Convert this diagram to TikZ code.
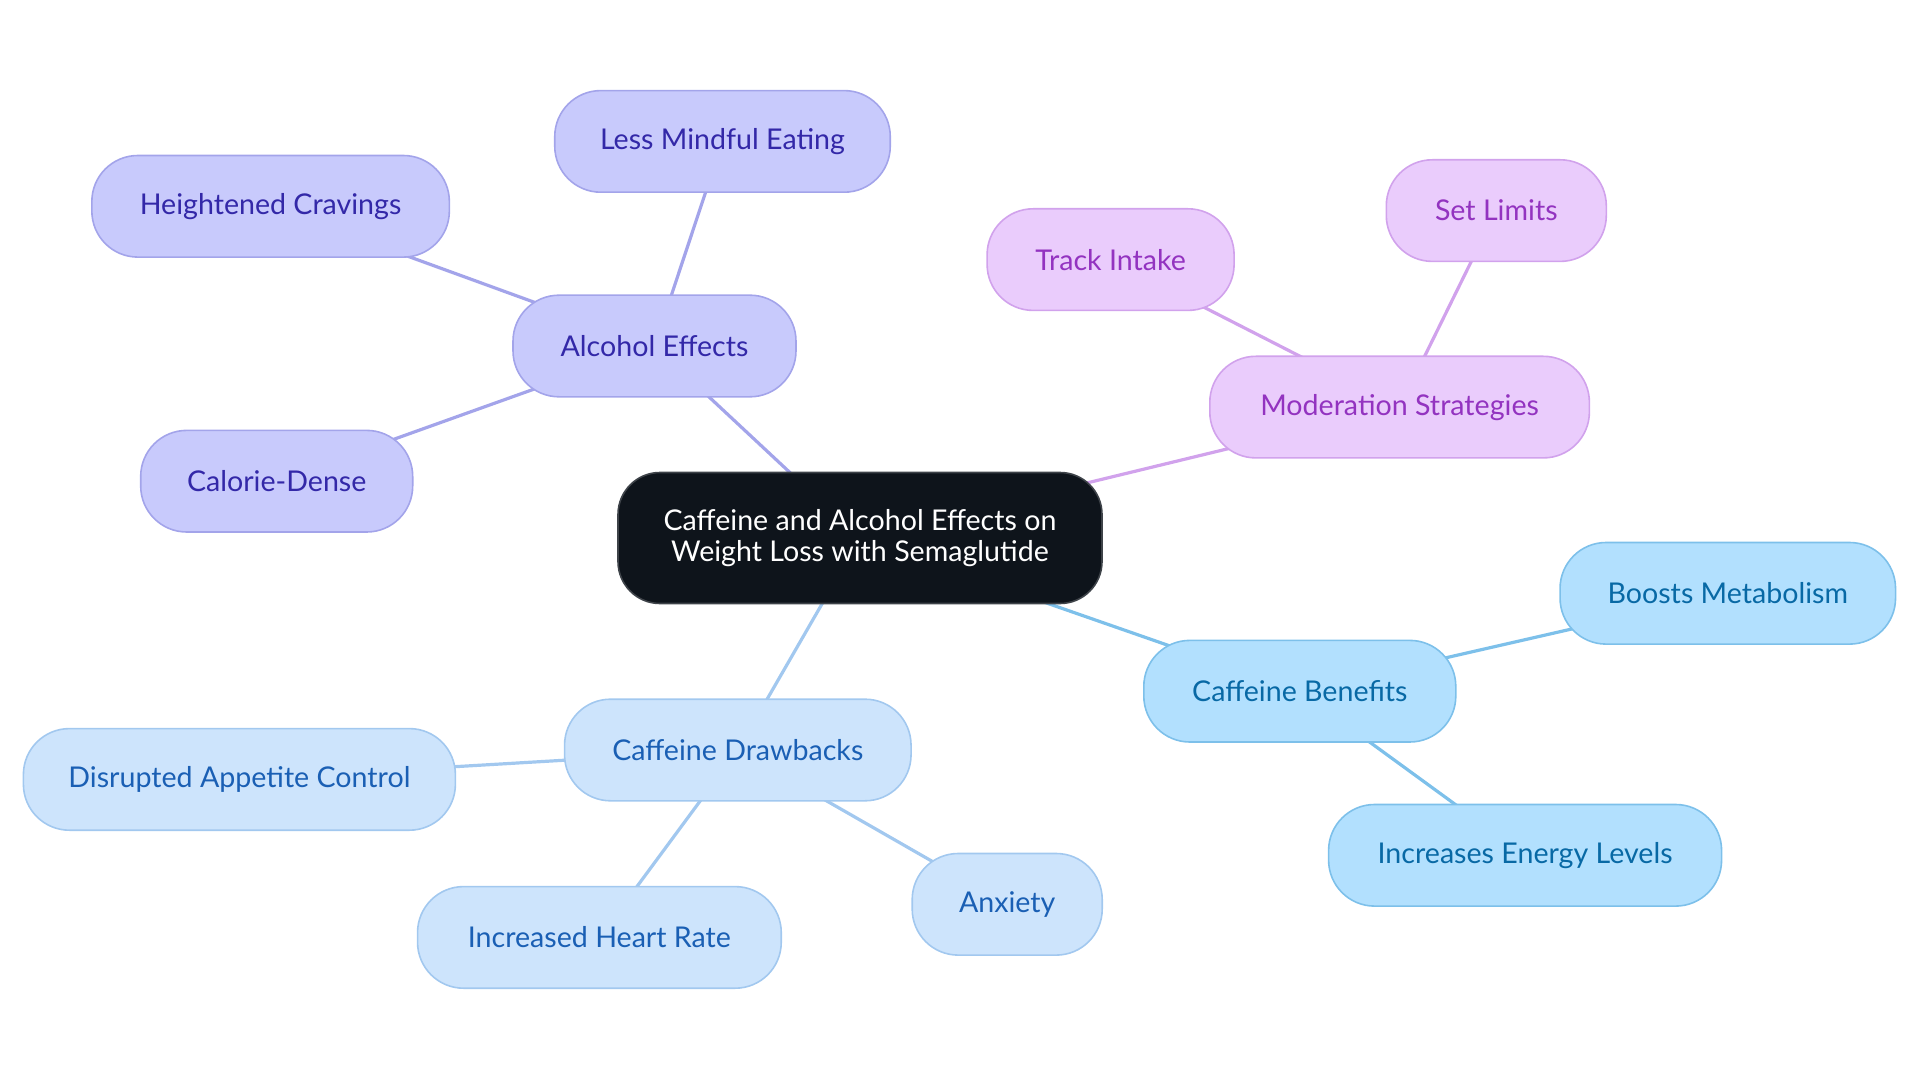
\documentclass[tikz,border=0pt]{standalone}
\usepackage{fontspec}
\setmainfont{Lato}
\usetikzlibrary{backgrounds}
\definecolor{alcfill}{HTML}{C8CAFC}
\definecolor{alcline}{HTML}{A3A4EA}
\definecolor{alctext}{HTML}{3328A8}
\definecolor{modfill}{HTML}{EACCFC}
\definecolor{modline}{HTML}{D1A2EC}
\definecolor{modtext}{HTML}{9333C0}
\definecolor{cbfill}{HTML}{B2E0FE}
\definecolor{cbline}{HTML}{7DC0EA}
\definecolor{cbtext}{HTML}{0869A5}
\definecolor{cdfill}{HTML}{CDE4FC}
\definecolor{cdline}{HTML}{A2C8EF}
\definecolor{cdtext}{HTML}{1A5FB4}
\definecolor{rootfill}{HTML}{0E141B}
\tikzset{
  box/.style={rounded corners=46pt, draw, line width=1.6pt, inner sep=0pt,
    minimum height=101.6pt, font=\fontsize{28.6}{31}\selectfont, align=center},
  alcbox/.style={box, fill=alcfill, draw=alcline, text=alctext},
  modbox/.style={box, fill=modfill, draw=modline, text=modtext},
  cbbox/.style={box, fill=cbfill, draw=cbline, text=cbtext},
  cdbox/.style={box, fill=cdfill, draw=cdline, text=cdtext},
  rootbox/.style={box, rounded corners=42pt, fill=rootfill, draw=rootfill!80!white, text=white},
  link/.style={line width=3.2pt},
}
\begin{document}
\begin{tikzpicture}[x=1pt,y=-1pt]
\useasboundingbox (0,0) rectangle (1920,1083);
\node[rootbox, minimum width=484pt, minimum height=131pt] (root) at (860,538) {Caffeine and Alcohol Effects on\\Weight Loss with Semaglutide};
\node[alcbox, minimum width=283pt] (alc) at (654.5,346) {Alcohol Effects};
\node[alcbox, minimum width=335.5pt] (lme) at (722.5,141.4) {Less Mindful Eating};
\node[alcbox, minimum width=357.5pt] (hc) at (270.6,206.3) {Heightened Cravings};
\node[alcbox, minimum width=272pt] (cal) at (276.7,481.2) {Calorie-Dense};
\node[modbox, minimum width=379.6pt] (mod) at (1399.6,407.1) {Moderation Strategies};
\node[modbox, minimum width=247pt] (ti) at (1110.6,259.6) {Track Intake};
\node[modbox, minimum width=220pt] (sl) at (1496.3,210.6) {Set Limits};
\node[cbbox, minimum width=312pt] (cb) at (1299.8,691.2) {Caffeine Benefits};
\node[cbbox, minimum width=335.5pt] (bm) at (1727.8,593.3) {Boosts Metabolism};
\node[cbbox, minimum width=393pt] (iel) at (1525.1,855.3) {Increases Energy Levels};
\node[cdbox, minimum width=346.5pt] (cdr) at (737.8,750) {Caffeine Drawbacks};
\node[cdbox, minimum width=432pt] (dac) at (239.4,779.4) {Disrupted Appetite Control};
\node[cdbox, minimum width=363.7pt] (ihr) at (599.4,937.4) {Increased Heart Rate};
\node[cdbox, minimum width=190pt] (anx) at (1007.2,904.3) {Anxiety};
\begin{pgfonlayer}{background}
\draw[link, alcline] (root.center) -- (alc.center);
\draw[link, alcline] (alc.center) -- (lme.center);
\draw[link, alcline] (alc.center) -- (hc.center);
\draw[link, alcline] (alc.center) -- (cal.center);
\draw[link, modline] (root.center) -- (mod.center);
\draw[link, modline] (mod.center) -- (ti.center);
\draw[link, modline] (mod.center) -- (sl.center);
\draw[link, cbline] (root.center) -- (cb.center);
\draw[link, cbline] (cb.center) -- (bm.center);
\draw[link, cbline] (cb.center) -- (iel.center);
\draw[link, cdline] (root.center) -- (cdr.center);
\draw[link, cdline] (cdr.center) -- (dac.center);
\draw[link, cdline] (cdr.center) -- (ihr.center);
\draw[link, cdline] (cdr.center) -- (anx.center);
\end{pgfonlayer}
\end{tikzpicture}
\end{document}
